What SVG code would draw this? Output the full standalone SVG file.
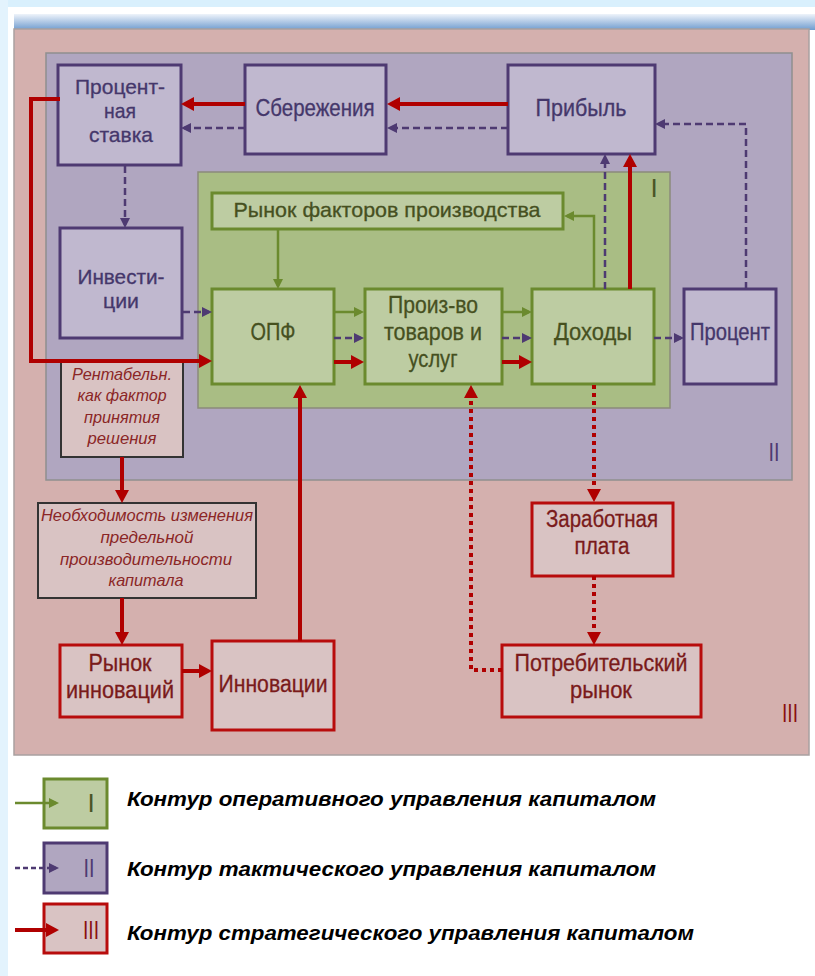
<svg xmlns="http://www.w3.org/2000/svg" width="815" height="976" viewBox="0 0 815 976">
<style>
.t{font-family:"Liberation Sans",Arial,sans-serif;font-size:23px;text-anchor:middle;stroke-width:0.3}
.s{font-size:21px}
.tp{fill:#45376b;stroke:#45376b}
.tg{fill:#46501f;stroke:#46501f}
.tr{fill:#7a1a1a;stroke:#7a1a1a}
.ti{font-family:"Liberation Sans",Arial,sans-serif;font-size:17px;font-style:italic;text-anchor:middle;fill:#8b2626}
.np{fill:#c0b8cf;stroke:#4e3a72;stroke-width:3}
.ng{fill:#bdcca2;stroke:#6b8a2e;stroke-width:3}
.nr{fill:#d9c3c3;stroke:#b80c0c;stroke-width:3}
.nk{fill:#d9c3c3;stroke:#333;stroke-width:2}
.cr{fill:none;stroke:#b00000;stroke-width:4;marker-end:url(#mr)}
.cd{fill:none;stroke:#b00000;stroke-width:4;stroke-dasharray:4 4;marker-end:url(#mr)}
.cp{fill:none;stroke:#4e3a72;stroke-width:2.5;stroke-dasharray:7 4;marker-end:url(#mp)}
.cg{fill:none;stroke:#6b8a2e;stroke-width:2.5;marker-end:url(#mg)}
.lg{font-family:"Liberation Sans",Arial,sans-serif;font-size:20px;font-weight:bold;font-style:italic;fill:#000}
.rn{font-family:"Liberation Sans",Arial,sans-serif;font-size:26px;text-anchor:middle}
</style>
<defs>
<marker id="mr" markerUnits="userSpaceOnUse" markerWidth="13" markerHeight="14" refX="9" refY="7" orient="auto"><path d="M0,0 L13,7 L0,14 z" fill="#b00000"/></marker>
<marker id="mp" markerUnits="userSpaceOnUse" markerWidth="10" markerHeight="10" refX="7" refY="5" orient="auto"><path d="M0,0 L10,5 L0,10 z" fill="#4e3a72"/></marker>
<marker id="mg" markerUnits="userSpaceOnUse" markerWidth="10" markerHeight="10" refX="7" refY="5" orient="auto"><path d="M0,0 L10,5 L0,10 z" fill="#6b8a2e"/></marker>
<linearGradient id="hdr" x1="0" y1="0" x2="0" y2="1"><stop offset="0" stop-color="#eef3fa"/><stop offset="1" stop-color="#6f9ccf"/></linearGradient>
</defs>
<!-- background -->
<rect x="0" y="0" width="815" height="976" fill="#ffffff"/>
<rect x="0" y="0" width="815" height="7" fill="#d9f0fd"/>
<rect x="0" y="0" width="8" height="976" fill="#e3f3fd"/>
<rect x="14" y="14" width="801" height="16" fill="url(#hdr)"/>
<!-- contours -->
<g id="contour3"><rect x="14" y="29" width="795" height="726" fill="#d4b0ae" stroke="#a9a0a0" stroke-width="1.5"/><text class="rn" x="790" y="722" fill="#8a1010" textLength="16" lengthAdjust="spacingAndGlyphs">III</text></g>
<g id="contour2"><rect x="46" y="53" width="746" height="427" fill="#b0a6c0" stroke="#8f8f8f" stroke-width="1.5"/><text class="rn" x="774" y="461" fill="#4e3a72" textLength="11" lengthAdjust="spacingAndGlyphs">II</text></g>
<g id="contour1"><rect x="198" y="172" width="472" height="236" fill="#a9bd84" stroke="#8b8b7b" stroke-width="1.5"/><text class="rn" x="654" y="197" fill="#4a5526">I</text></g>
<!-- nodes -->
<g id="rate"><rect class="np" x="58" y="65" width="123" height="100"/><text class="t s tp" x="120" y="93.5" textLength="90" lengthAdjust="spacingAndGlyphs">Процент-</text><text class="t s tp" x="120" y="117.5" textLength="32" lengthAdjust="spacingAndGlyphs">ная</text><text class="t s tp" x="121" y="141.5" textLength="64" lengthAdjust="spacingAndGlyphs">ставка</text></g>
<g id="savings"><rect class="np" x="245" y="65" width="141" height="89"/><text class="t tp" x="315" y="116" textLength="119" lengthAdjust="spacingAndGlyphs">Сбережения</text></g>
<g id="profit"><rect class="np" x="508" y="65" width="147" height="89"/><text class="t tp" x="581" y="116" textLength="91" lengthAdjust="spacingAndGlyphs">Прибыль</text></g>
<g id="invest"><rect class="np" x="60" y="228" width="122" height="110"/><text class="t s tp" x="121" y="283.5" textLength="87" lengthAdjust="spacingAndGlyphs">Инвести-</text><text class="t s tp" x="121" y="307.5" textLength="36" lengthAdjust="spacingAndGlyphs">ции</text></g>
<g id="percent"><rect class="np" x="684" y="289" width="92" height="95"/><text class="t tp" x="730" y="340" textLength="80" lengthAdjust="spacingAndGlyphs">Процент</text></g>
<g id="factors"><rect class="ng" x="212" y="193" width="351" height="36"/><text class="t tg" x="387" y="217" style="font-size:21px" textLength="307" lengthAdjust="spacingAndGlyphs">Рынок факторов производства</text></g>
<g id="opf"><rect class="ng" x="212" y="289" width="122" height="95"/><text class="t tg" x="273" y="340" textLength="45" lengthAdjust="spacingAndGlyphs">ОПФ</text></g>
<g id="prod"><rect class="ng" x="365" y="289" width="137" height="95"/><text class="t tg" x="433" y="313" textLength="90" lengthAdjust="spacingAndGlyphs">Произ-во</text><text class="t tg" x="433" y="340" textLength="98" lengthAdjust="spacingAndGlyphs">товаров и</text><text class="t tg" x="433" y="367" textLength="49" lengthAdjust="spacingAndGlyphs">услуг</text></g>
<g id="income"><rect class="ng" x="532" y="289" width="122" height="95"/><text class="t tg" x="593" y="340" textLength="78" lengthAdjust="spacingAndGlyphs">Доходы</text></g>
<g id="profitab"><rect class="nk" x="61" y="362" width="122" height="95"/><text class="ti" x="122" y="380" textLength="100" lengthAdjust="spacingAndGlyphs">Рентабельн.</text><text class="ti" x="122" y="401" textLength="89" lengthAdjust="spacingAndGlyphs">как фактор</text><text class="ti" x="122" y="423" textLength="76" lengthAdjust="spacingAndGlyphs">принятия</text><text class="ti" x="122" y="444" textLength="69" lengthAdjust="spacingAndGlyphs">решения</text></g>
<g id="necessity"><rect class="nk" x="38" y="503" width="218" height="95"/><text class="ti" x="147" y="521" textLength="212" lengthAdjust="spacingAndGlyphs">Необходимость изменения</text><text class="ti" x="147" y="543" textLength="93" lengthAdjust="spacingAndGlyphs">предельной</text><text class="ti" x="146" y="565" textLength="172" lengthAdjust="spacingAndGlyphs">производительности</text><text class="ti" x="146" y="586" textLength="75" lengthAdjust="spacingAndGlyphs">капитала</text></g>
<g id="wages"><rect class="nr" x="532" y="503" width="141" height="73"/><text class="t tr" x="602" y="527" textLength="112" lengthAdjust="spacingAndGlyphs">Заработная</text><text class="t tr" x="602" y="554" textLength="55" lengthAdjust="spacingAndGlyphs">плата</text></g>
<g id="innomarket"><rect class="nr" x="60" y="645" width="122" height="72"/><text class="t tr" x="120" y="671" textLength="63" lengthAdjust="spacingAndGlyphs">Рынок</text><text class="t tr" x="120" y="698" textLength="108" lengthAdjust="spacingAndGlyphs">инноваций</text></g>
<g id="innovations"><rect class="nr" x="212" y="641" width="122" height="89"/><text class="t tr" x="273" y="692" textLength="109" lengthAdjust="spacingAndGlyphs">Инновации</text></g>
<g id="consumer"><rect class="nr" x="502" y="645" width="199" height="72"/><text class="t tr" x="601" y="671" textLength="173" lengthAdjust="spacingAndGlyphs">Потребительский</text><text class="t tr" x="601" y="698" textLength="62" lengthAdjust="spacingAndGlyphs">рынок</text></g>
<!-- connectors -->
<g id="connectors">
<path class="cr" d="M508,104 H391"/>
<path class="cr" d="M245,104 H185"/>
<path class="cr" d="M60,99 H31 V361 H208"/>
<path class="cr" d="M334,362 H360"/>
<path class="cr" d="M502,362 H528"/>
<path class="cr" d="M630,289 V158"/>
<path class="cr" d="M300,641 V389"/>
<path class="cr" d="M122,457 V499"/>
<path class="cr" d="M122,598 V641"/>
<path class="cr" d="M182,671 H208"/>
<path class="cd" d="M594,385 V498"/>
<path class="cd" d="M594,576 V641"/>
<path class="cd" d="M502,670 H471 V389"/>
<path class="cp" d="M508,128 H390"/>
<path class="cp" d="M245,128 H184"/>
<path class="cp" d="M125,166 V225"/>
<path class="cp" d="M183,312 H209"/>
<path class="cp" d="M334,338 H361"/>
<path class="cp" d="M502,338 H529"/>
<path class="cp" d="M654,338 H681"/>
<path class="cp" d="M746,289 V124 H658"/>
<path class="cp" d="M605,289 V157"/>
<path class="cg" d="M334,312 H361"/>
<path class="cg" d="M502,312 H529"/>
<path class="cg" d="M594,289 V216 H567"/>
<path class="cg" d="M278,229 V286"/>
</g>
<!-- legend -->
<g id="legend1"><rect class="ng" x="44" y="779" width="63" height="49"/><text class="rn" x="91" y="812" fill="#4a5526">I</text><path class="cg" d="M15,803 H56"/><text class="lg" x="127" y="806" textLength="529" lengthAdjust="spacingAndGlyphs">Контур оперативного управления  капиталом</text></g>
<g id="legend2"><rect class="np" x="44" y="843" width="63" height="50" style="fill:#b0a6c0"/><text class="rn" x="89" y="877" fill="#4e3a72" textLength="11" lengthAdjust="spacingAndGlyphs">II</text><path class="cp" d="M15,868 H56" style="stroke-dasharray:5 3"/><text class="lg" x="127" y="876" textLength="529" lengthAdjust="spacingAndGlyphs">Контур тактического управления  капиталом</text></g>
<g id="legend3"><rect class="nr" x="44" y="904" width="63" height="49"/><text class="rn" x="91" y="939" fill="#8a1010" textLength="16" lengthAdjust="spacingAndGlyphs">III</text><path class="cr" d="M15,930 H55"/><text class="lg" x="127" y="940" textLength="567" lengthAdjust="spacingAndGlyphs">Контур стратегического управления  капиталом</text></g>
</svg>
